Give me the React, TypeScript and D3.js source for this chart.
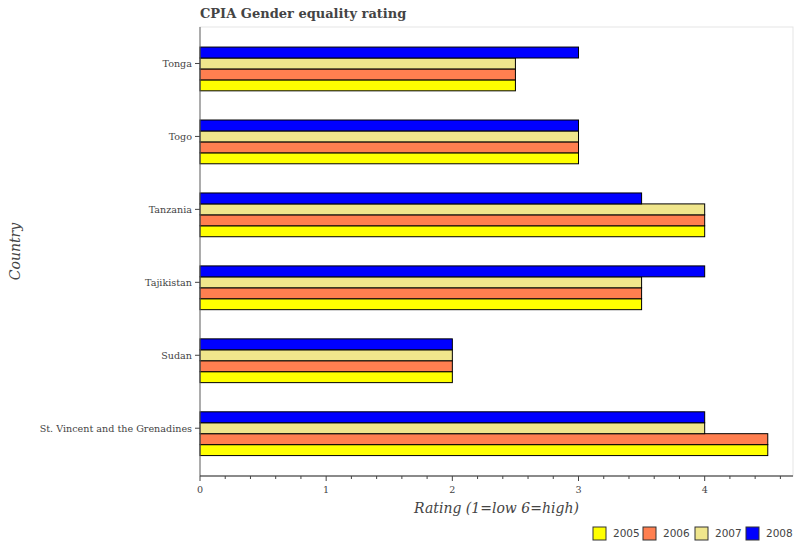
import React from "react";
import * as d3 from "d3";

const countries = ["St. Vincent and the Grenadines", "Sudan", "Tajikistan", "Tanzania", "Togo", "Tonga"];
const years = ["2005", "2006", "2007", "2008"];
const v2005 = [4.5, 2, 3.5, 4, 3, 2.5];
const v2006 = [4.5, 2, 3.5, 4, 3, 2.5];
const v2007 = [4, 2, 3.5, 4, 3, 2.5];
const v2008 = [4, 2, 4, 3.5, 3, 3];
const seriesValues = [v2005, v2006, v2007, v2008];
const colors = ["#FFFF00", "#FF7F50", "#F0E68C", "#0000FF"];
const dodges = [-0.3, -0.15, 0, 0.15];
const xTicks = [0, 1, 2, 3, 4];

const W = 800, H = 550;
const L = 200, R = 793, T = 27, B = 476;

export default function App() {
  const x = d3.scaleLinear().domain([0, 4.7]).range([L, R]);
  const y = d3.scaleLinear().domain([-0.155, 6.0]).range([B, T]);
  const barH = y(0) - y(0.15);
  const minor = d3.range(0, 4.7, 0.2).filter((v) => Math.abs(v - Math.round(v)) > 1e-6);
  const serif = "'DejaVu Serif', serif";
  const txt = "#444";
  return (
    <svg width={W} height={H} style={{ position: "absolute", left: 0, top: 0, background: "#fff" }}>
      <rect x={0} y={0} width={W} height={H} fill="#fff" />
      <rect x={L} y={T} width={R - L} height={B - T} fill="none" stroke="#e5e5e5" strokeWidth={1} />
      <text x={L} y={18} fontFamily={serif} fontWeight="bold" fontSize={13} fill={txt}>CPIA Gender equality rating</text>
      {seriesValues.map((vals, s) =>
        vals.map((v, i) => {
          const c = i + 0.5 + dodges[s];
          return (
            <rect key={`${s}-${i}`} x={x(0)} y={y(c + 0.075)} width={x(v) - x(0)} height={barH}
              fill={colors[s]} stroke="#000" strokeWidth={1} />
          );
        })
      )}
      <line x1={L} x2={L} y1={T} y2={B} stroke="#666" strokeWidth={1} />
      <line x1={L} x2={R} y1={B} y2={B} stroke="#222" strokeWidth={1} />
      {countries.map((c, i) => (
        <g key={c}>
          <line x1={L - 5} x2={L} y1={y(i + 0.5)} y2={y(i + 0.5)} stroke="#444" />
          <text x={L - 8} y={y(i + 0.5)} dy="0.35em" textAnchor="end" fontFamily={serif} fontSize={9.6} fill={txt}>{c}</text>
        </g>
      ))}
      {xTicks.map((t) => (
        <g key={t}>
          <line x1={x(t)} x2={x(t)} y1={B} y2={B + 5} stroke="#444" />
          <text x={x(t)} y={B + 17} textAnchor="middle" fontFamily={serif} fontSize={9.6} fill={txt}>{t}</text>
        </g>
      ))}
      {minor.map((t) => (
        <line key={t} x1={x(t)} x2={x(t)} y1={B} y2={B + 3} stroke="#444" />
      ))}
      <text x={(L + R) / 2} y={513} textAnchor="middle" fontFamily={serif} fontStyle="italic" fontSize={14} fill={txt}>Rating (1=low 6=high)</text>
      <text transform={`translate(20,${(T + B) / 2}) rotate(-90)`} textAnchor="middle" fontFamily={serif} fontStyle="italic" fontSize={14} fill={txt}>Country</text>
      {years.map((yr, s) => {
        const lx = [593, 643, 695, 746][s];
        return (
          <g key={yr}>
            <rect x={lx} y={527} width={13} height={13} fill={colors[s]} stroke="#333" strokeWidth={1} />
            <text x={lx + 20} y={533.5} dy="0.35em" fontFamily="'DejaVu Sans', sans-serif" fontSize={10.5} fill={txt}>{yr}</text>
          </g>
        );
      })}
    </svg>
  );
}
